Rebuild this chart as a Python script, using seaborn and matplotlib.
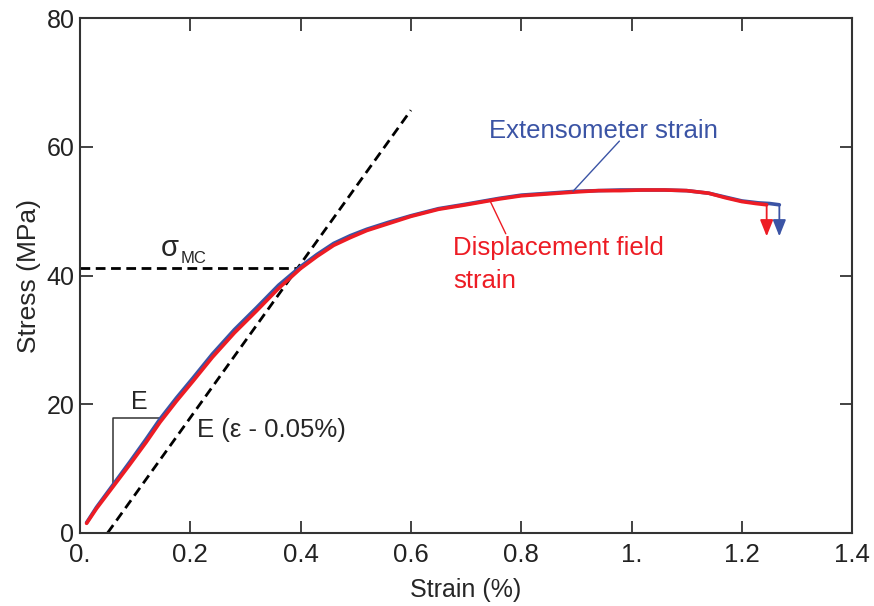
import numpy as np
import pandas as pd
import matplotlib
matplotlib.use("Agg")
import matplotlib.pyplot as plt
import seaborn as sns

# stress-strain curves (strain in %, stress in MPa)
disp_strain = [0.012, 0.03, 0.06, 0.09, 0.12, 0.145, 0.175, 0.205, 0.24, 0.28, 0.32,
               0.36, 0.40, 0.43, 0.46, 0.49, 0.52, 0.56, 0.60, 0.65, 0.70, 0.76, 0.80,
               0.85, 0.90, 0.94, 0.98, 1.02, 1.06, 1.10, 1.14, 1.17, 1.20, 1.225, 1.245]
disp_stress = [1.5, 3.8, 7.2, 10.6, 14.1, 17.2, 20.5, 23.6, 27.3, 31.1, 34.5,
               38.0, 41.1, 43.0, 44.7, 45.9, 47.0, 48.1, 49.2, 50.3, 51.0, 51.9, 52.4,
               52.7, 53.0, 53.2, 53.2, 53.3, 53.3, 53.2, 52.8, 52.1, 51.5, 51.2, 51.0]

ext_strain = [0.012, 0.03, 0.06, 0.09, 0.12, 0.145, 0.175, 0.205, 0.24, 0.28, 0.32,
              0.36, 0.40, 0.43, 0.46, 0.49, 0.52, 0.56, 0.60, 0.65, 0.70, 0.76, 0.80,
              0.85, 0.90, 0.94, 0.98, 1.02, 1.06, 1.10, 1.14, 1.17, 1.20, 1.23, 1.25, 1.268]
ext_stress = [1.6, 4.0, 7.5, 11.0, 14.6, 17.7, 21.0, 24.1, 27.8, 31.6, 35.0,
              38.5, 41.4, 43.3, 45.0, 46.2, 47.2, 48.3, 49.3, 50.4, 51.1, 52.0, 52.5,
              52.8, 53.1, 53.2, 53.3, 53.3, 53.3, 53.2, 52.8, 52.2, 51.6, 51.3, 51.2, 51.0]

# offset (0.05 %) modulus line and yield level
offset_strain = [0.05, 0.60]
offset_stress = [0.0, 65.7]
yield_strain = [0.0, 0.40]
yield_stress = [41.2, 41.2]

# slope triangle for E
tri_strain = [0.0604, 0.0604, 0.148]
tri_stress = [7.2, 17.8, 17.8]

# failure arrows (strain, start stress, end stress)
disp_fail = (1.245, 51.0, 46.1)
ext_fail = (1.268, 51.0, 46.1)

x_ticks = [0, 0.2, 0.4, 0.6, 0.8, 1.0, 1.2, 1.4]
x_tick_labels = ["0.", "0.2", "0.4", "0.6", "0.8", "1.", "1.2", "1.4"]
y_ticks = [0, 20, 40, 60, 80]

red = "#ED1C24"
blue = "#3B54A5"

sns.set_style("ticks")
plt.rcParams['font.family'] = ['Liberation Sans', 'DejaVu Sans']

df_disp = pd.DataFrame({"strain": disp_strain, "stress": disp_stress})
df_ext = pd.DataFrame({"strain": ext_strain, "stress": ext_stress})

fig = plt.figure(figsize=(8.74, 6.06), dpi=100)
ax = fig.add_axes([0.0915, 0.1205, 0.8835, 0.8495])

ax.plot(offset_strain, offset_stress, color="black", ls=(0, (3.5, 2)), lw=2)
ax.plot(yield_strain, yield_stress, color="black", ls=(0, (3.5, 2)), lw=2)
ax.plot(tri_strain, tri_stress, color="#333333", lw=1.1)

sns.lineplot(data=df_ext, x="strain", y="stress", sort=False, color=blue, lw=2.6, ax=ax)
sns.lineplot(data=df_disp, x="strain", y="stress", sort=False, color=red, lw=2.6, ax=ax)

for (xf, y0, y1), c in [(disp_fail, red), (ext_fail, blue)]:
    ax.annotate("", xy=(xf, y1), xytext=(xf, y0),
                arrowprops=dict(arrowstyle="-|>,head_length=1.0,head_width=0.4",
                                color=c, lw=1.3, shrinkA=0, shrinkB=0))

# leader lines for the labels
ax.plot([0.894, 0.978], [53.1, 60.9], color=blue, lw=1)
ax.plot([0.743, 0.772], [51.7, 46.5], color=red, lw=1)

ax.text(0.742, 62.5, "Extensometer strain", color=blue, fontsize=18.5, va="center")
ax.text(0.676, 44.3, "Displacement field", color=red, fontsize=18.5, va="center")
ax.text(0.676, 39.2, "strain", color=red, fontsize=18.5, va="center")

ax.text(0.107, 20.3, "E", fontsize=18, ha="center", va="center")
ax.text(0.212, 16.0, "E (ε - 0.05%)", fontsize=18.5, ha="left", va="center")
ax.text(0.163, 44.3, "σ", fontsize=21, ha="center", va="center")
ax.text(0.182, 42.7, "MC", fontsize=12, ha="left", va="center")

ax.set_xlim(0, 1.4)
ax.set_ylim(0, 80)
ax.set_xticks(x_ticks)
ax.set_xticklabels(x_tick_labels)
ax.set_yticks(y_ticks)
ax.tick_params(direction="in", length=9, width=1.2, top=True, right=True,
               colors="#222222", labelsize=18, pad=4)
ax.tick_params(axis="x", labelsize=18.5, pad=7)
for s in ax.spines.values():
    s.set_visible(True)
    s.set_linewidth(1.5)
    s.set_color("#333333")

ax.set_xlabel("Strain (%)", fontsize=18, labelpad=8)
ax.set_ylabel("Stress (MPa)", fontsize=19, labelpad=4)

fig.savefig("out.png", dpi=100)
